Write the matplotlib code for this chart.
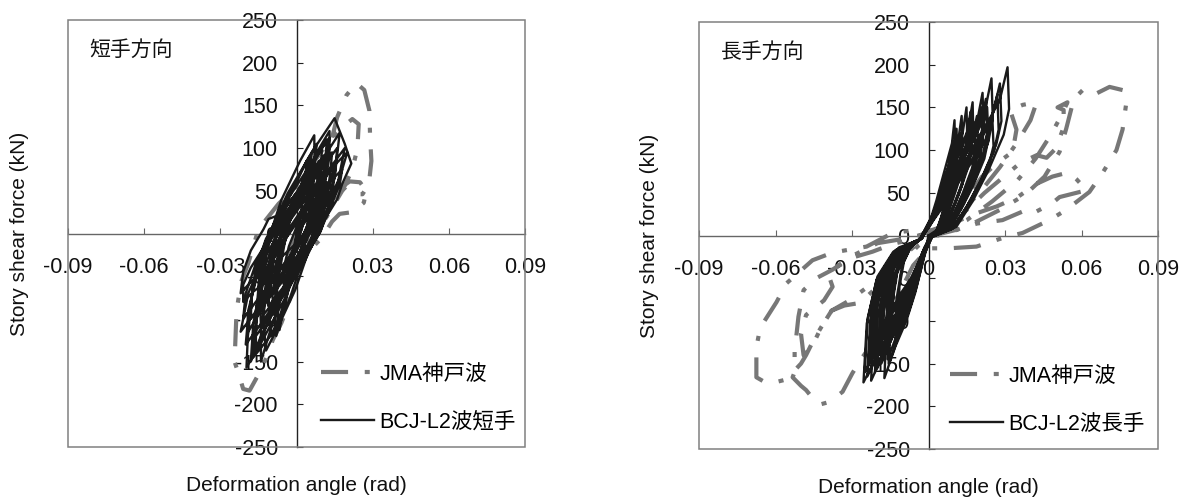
import numpy as np
import matplotlib
matplotlib.use("Agg")
import matplotlib.pyplot as plt
from matplotlib.patches import Rectangle

plt.rcParams['font.family'] = ['Liberation Sans', 'Noto Sans CJK JP']

# axis ticks
x_ticks = [-0.09, -0.06, -0.03, 0, 0.03, 0.06, 0.09]
y_ticks = [-250, -200, -150, -100, -50, 0, 50, 100, 150, 200, 250]

labels_short = ['JMA神戸波', 'BCJ-L2波短手']
labels_long = ['JMA神戸波', 'BCJ-L2波長手']

# hysteresis traces: (deformation angle [1e-3 rad], story shear [kN])
short_jma = [
    (0, 0), (5, -10), (12, 20), (18, 50), (22, 75), (24, 100), (24.5, 128), (22, 134),
    (17, 122), (12, 105), (6, 80), (0, 55), (-7, 35), (-11, 20), (-15, 5), (-17, -15),
    (-19, -35), (-21.6, -55), (-22.5, -70), (-23.6, -90), (-24, -120), (-24.4, -150),
    (-22.4, -168), (-21, -182), (-18.5, -184), (-14.6, -163), (-11, -140), (-9.4, -125),
    (-6, -105), (-4, -90), (-2.5, -75), (-1.6, -55), (1, -35), (5, -20), (10, -5), (14, 14),
    (17, 23), (22, 25), (26.5, 36), (27.5, 50), (25, 60), (21, 61), (18, 55), (21, 46),
    (26, 46), (28.5, 58), (29.5, 85), (29, 112), (28.7, 144), (26.7, 168), (23.6, 176),
    (19.7, 162), (16, 136), (13, 100), (9, 65), (4, 30), (0, 0), (-3, -25), (-6, -60),
    (-8, -100), (-5, -75), (-2, -40), (0, 0),
]

short_bcj = [
    (0, 0), (2, 8), (5, 20), (6, 33), (5, 45),
    (1.7, 33), (-2.6, 15), (-6, -5), (-7.4, -25), (-7.4, -43), (-7, -55),
    (-3, -40), (2.4, -17.5), (6.5, 7.5), (8.4, 32.5), (8.4, 55), (8, 70),
    (3.1, 51), (-3.4, 23.5), (-8.5, -7.5), (-11, -38.5), (-11.3, -66), (-11, -85),
    (-5.5, -64), (2.1, -32), (8, 3.5), (10.9, 39), (11.3, 71), (11, 92),
    (4.7, 68), (-3.8, 32), (-10.5, -8), (-13.8, -48), (-14.3, -84), (-14, -108),
    (-6.8, -79), (2.8, -35), (10.5, 13.5), (16, 40), (18, 58), (21.6, 82), (19, 105), (15, 135),
    (7.1, 100), (-3.5, 47), (-12.4, -11), (-17.4, -69), (-19.2, -122), (-19.7, -157),
    (-13.2, -124), (-4.4, -75), (2.6, -21), (6.3, 33), (7.1, 82), (7, 115),
    (1.4, 85), (-6, 39), (-11.5, -11), (-13.6, -61), (-13, -107), (-12, -137),
    (-7.2, -109), (-0.5, -66), (5, -18.5), (8.3, 29), (9.6, 72), (10, 100),
    (5.1, 74), (-1.5, 36), (-6.4, -6.5), (-8.2, -49), (-7.6, -87), (-6.7, -113),
    (-5, -85), (-2, -50), (3, -10), (8, 30), (11, 70), (13, 112),
    (6.2, 84), (-3, 42), (-10.5, -4), (-14.6, -50), (-15.8, -92), (-16, -120),
    (-10, -95), (-1.9, -58), (5, -16), (9.3, 26), (11.2, 63), (12, 88),
    (5.1, 65), (-4.3, 32), (-12, -6), (-16.3, -44), (-17.7, -77), (-18, -100),
    (-11.9, -78), (-3.4, -46), (3.5, -10), (7.4, 26), (8.7, 58), (9, 80),
    (3.2, 60), (-4.7, 29), (-11, -5), (-14.3, -39), (-15, -70), (-15, -90),
    (-8.6, -68), (0.2, -34.5), (7.5, 2.5), (11.8, 39.5), (13.4, 73), (14, 95),
    (6.6, 68), (-3.5, 27.5), (-12, -17.5), (-17.1, -62.5), (-19.2, -103), (-20, -130),
    (-14.3, -107), (-6.5, -73), (0, -35), (3.9, 3), (5.5, 37), (6, 60),
    (1.9, 44), (-3.7, 21), (-8, -5), (-10.1, -31), (-10.3, -54), (-10, -70),
    (-4.9, -53), (2, -28), (7.5, 0), (10.4, 28), (11.1, 53), (11, 70),
    (5.5, 50), (-1.9, 20.5), (-8, -12.5), (-11.5, -45.5), (-12.7, -75), (-13, -95),
    (-6.6, -72), (1.5, -36.5), (9.5, 2.5), (13.8, 41.5), (15.4, 77), (16, 100),
    (8.7, 71), (-1.2, 26.5), (-9.5, -22.5), (-14.4, -71.5), (-16.3, -116), (-17, -145),
    (-10, -119), (-3, -79), (2, -35), (9, 0), (14, 35), (17, 57), (18, 75),
    (13, 60), (5, 40), (-4, 25), (-11, 17), (-13, 5), (-18, -20), (-21, -45), (-22, -70),
    (-19, -60), (-14, -45), (-5, -25), (3, -3), (8, 20), (11, 40), (12, 60),
    (9, 45), (3, 25), (-4, -5), (-8, -40), (-9.5, -70), (-9, -95),
    (-6, -75), (-3, -45), (0, -15), (3, 15), (4.5, 35), (4, 50),
    (1, 38), (-5, 15), (-12, -12), (-18, -40), (-21, -60), (-21, -80),
    (-17, -68), (-9, -50), (-2, -25), (4, 5), (8, 30), (9, 55),
    (6, 40), (1, 15), (-3, -15), (-5, -40), (-5, -60),
    (-3, -45), (0, -15), (3, 20), (5, 55), (6, 95),
    (4, 75), (0, 40), (-4, 0), (-7, -50), (-8.5, -90), (-8, -120),
    (-5, -90), (-2, -50), (0, 0),
    (5, 25), (8, 45), (10, 65), (9, 85),
    (5, 70), (-1, 40), (-8, 0), (-13, -45), (-16, -90), (-16, -135),
    (-12, -110), (-6, -70), (0, -30), (6, 10), (11, 55), (13, 90), (13, 120),
    (9, 100), (3, 65), (-4, 20), (-9, -30), (-11, -80), (-10, -120),
    (-7, -100), (-3, -65), (3, -25), (10, 20), (15, 65), (17, 118),
    (12, 95), (5, 60), (-4, 15), (-13, -30), (-19, -70), (-22, -115),
    (-17, -95), (-9, -65), (-1, -25), (6, 20), (9, 50), (10, 80),
    (6, 60), (0, 30), (-8, -15), (-14, -60), (-17, -105), (-18, -150),
    (-14, -120), (-7, -80), (1, -35), (10, 15), (16, 55), (19, 100),
    (14, 80), (6, 45), (-2, 10), (-9, -30), (-12, -55), (-12, -80),
    (-8, -60), (-3, -30), (2, 5), (5, 45), (7, 80), (8, 105),
    (4, 85), (-2, 50), (-9, 10), (-16, -35), (-20, -70), (-21, -100),
    (-16, -80), (-8, -50), (0, -15), (8, 25), (13, 55), (15, 80),
    (10, 60), (3, 30), (-5, -10), (-11, -60), (-14, -110), (-14, -150),
    (-11, -120), (-7, -85), (-3, -40), (1, 10), (3, 50), (4, 85),
    (0, 60), (-5, 30), (-11, -10), (-16, -55), (-19, -90), (-19, -115),
    (-14, -90), (-7, -55), (1, -15), (7, 30), (11, 75), (12, 110),
    (8, 90), (2, 55), (-4, 10), (-7, -35), (-8.5, -65), (-8, -90),
    (-5, -65), (-1, -35), (5, 0), (12, 35), (17, 65), (20, 95),
    (15, 80), (8, 55), (0, 0),
]

long_jma = [
    (0, 0), (6, 14), (13, 35), (21, 69), (27, 85), (33, 98), (34.5, 124), (32, 147),
    (37, 153), (42.4, 156), (40, 135), (35, 110), (28, 80), (20, 50), (12, 25), (3, 5),
    (-8, -3), (-20, -9), (-30, -24), (-37.6, -40), (-44, -50), (-49, -64), (-51, -95),
    (-52.5, -136), (-52.5, -158), (-50, -150), (-48, -140), (-45, -122), (-42, -107),
    (-38, -88), (-33, -82), (-27, -79), (-20, -60), (-12, -35), (-4, -12), (2, 0),
    (10, 6), (19, 14), (29, 18), (38.4, 30), (41, 26), (48.6, 38), (51.4, 45), (62, 53),
    (58, 66), (55, 74), (48.6, 69), (42, 60), (35, 45), (26.7, 34), (18.8, 26), (10, 15), (0, 5),
    (-6, -4), (-14, -10), (-22, -19), (-30, -26), (-37.6, -40), (-39, -48), (-37.6, -60),
    (-41, -76), (-48, -93), (-50, -115), (-49, -140), (-46, -132), (-42, -107), (-38, -88),
    (-31, -76), (-22, -56), (-14, -35), (-6, -14), (0, 0),
    (6, 10), (15, 30), (22, 50), (30, 70), (36, 85), (42.4, 94), (46.3, 91), (50, 102),
    (53, 127), (53, 147), (50.6, 150), (54.5, 156), (52, 140), (48, 118), (42, 90),
    (35, 65), (25, 40), (15, 18), (5, 5),
    (-6, 6), (-14, 3), (-24.3, -13), (-37.6, -20), (-45.5, -29), (-55.7, -56), (-59.6, -78),
    (-66, -108), (-67.5, -131), (-67.5, -166), (-64, -172), (-61.6, -173), (-55, -168),
    (-52.5, -160), (-53.3, -166), (-50, -176), (-48, -181), (-45, -192), (-42.7, -198),
    (-39, -195), (-33.7, -183), (-29.8, -161), (-26, -143), (-22, -126), (-17, -100),
    (-11, -65), (-6, -35), (0, -15),
    (8, -15), (18.8, -13), (29, -3), (36.9, 3), (47.4, 18), (54, 30), (63.1, 51), (68.2, 73),
    (73.7, 100), (76.1, 124), (77.6, 156), (76.5, 170), (71, 174), (64.3, 164), (60.4, 170),
    (57, 160), (54, 125), (51.4, 98), (45.5, 69), (38, 48), (28, 30), (16, 12), (5, 0), (0, 0),
]

long_bcj = [
    (0, 0),
    (3.6, 7), (5.6, 27), (7.7, 51), (9.7, 81), (10.4, 101), (10.2, 135), (9.2, 108), (6.1, 74), (3.1, 41), (0.5, 16),
    (-3, -4),
    (-14.0, -21), (-20.4, -52), (-24.2, -103), (-25.5, -172), (-19.1, -134), (-12.8, -103), (-7.7, -69), (-2.6, -26),
    (1, -2),
    (5.2, 8), (8.2, 30), (11.2, 57), (14.2, 90), (15.2, 113), (14.9, 150), (13.4, 120), (8.9, 83), (4.5, 45), (0.7, 18),
    (-3.5, -5),
    (-9.5, -20), (-13.8, -50), (-16.4, -100), (-17.3, -167), (-13.0, -130), (-8.7, -100), (-5.2, -67), (-1.7, -25),
    (0.5, -3),
    (6.1, 8), (9.5, 31), (13.0, 59), (16.4, 94), (17.6, 117), (17.3, 156), (15.6, 125), (10.4, 86), (5.2, 47), (0.9, 19),
    (-2.5, -3),
    (-11.6, -19), (-16.8, -48), (-20.0, -96), (-21, -160), (-15.8, -125), (-10.5, -96), (-6.3, -64), (-2.1, -24),
    (1.5, -1),
    (7.4, 8), (11.7, 33), (15.9, 63), (20.1, 100), (21.6, 125), (21.2, 167), (19.1, 134), (12.7, 92), (6.4, 50), (1.1, 20),
    (-3, -4),
    (-12.7, -18), (-18.4, -45), (-21.9, -90), (-23, -150), (-17.3, -117), (-11.5, -90), (-6.9, -60), (-2.3, -23),
    (1, -2),
    (8.6, 9), (13.6, 37), (18.5, 70), (23.5, 110), (25.2, 138), (24.7, 184), (22.2, 147), (14.8, 101), (7.4, 55), (1.2, 22),
    (-3.5, -5),
    (-10.5, -17), (-15.2, -42), (-18.1, -84), (-19, -140), (-14.3, -109), (-9.5, -84), (-5.7, -56), (-1.9, -21),
    (0.5, -2),
    (10.9, 10), (17.1, 39), (23.3, 75), (29.5, 118), (31.6, 148), (31, 197), (27.9, 158), (18.6, 108), (9.3, 59), (1.6, 24),
    (-3, -4),
    (-8.3, -15), (-12, -38), (-14.3, -75), (-15, -125), (-11.3, -98), (-7.5, -75), (-4.5, -50), (-1.5, -19),
    (1, -2),
    (4.4, 6), (6.9, 24), (9.4, 46), (11.9, 72), (12.8, 90), (12.5, 120), (11.3, 96), (7.5, 66), (3.8, 36), (0.6, 14),
    (-2.5, -3),
    (-12.1, -16), (-17.6, -39), (-20.9, -78), (-22, -130), (-16.5, -101), (-11, -78), (-6.6, -52), (-2.2, -20),
    (1.5, -1),
    (6.7, 7), (10.5, 28), (14.3, 53), (18.1, 84), (19.4, 105), (19, 140), (17.1, 112), (11.4, 77), (5.7, 42), (1, 17),
    (-3, -4),
    (-9.9, -13), (-14.4, -32), (-17.1, -63), (-18, -105), (-13.5, -82), (-9, -63), (-5.4, -42), (-1.8, -16),
    (1, -2),
    (8.1, 8), (12.7, 30), (17.3, 57), (21.9, 90), (23.5, 113), (23, 150), (20.7, 120), (13.8, 83), (6.9, 45), (1.2, 18),
    (-3.5, -5),
    (-13.2, -20), (-19.2, -50), (-22.8, -99), (-24, -165), (-18, -129), (-12, -99), (-7.2, -66), (-2.4, -25),
    (0.5, -2),
    (5.6, 6), (8.8, 26), (12, 49), (15.2, 77), (16.3, 96), (16, 128), (14.4, 102), (9.6, 70), (4.8, 38), (0.8, 15),
    (-3, -4),
    (-11, -19), (-16, -47), (-19, -93), (-20, -155), (-15, -121), (-10, -93), (-6, -62), (-2, -23),
    (1, -2),
    (9.5, 8), (14.9, 33), (20.3, 63), (25.7, 99), (27.5, 124), (27, 165), (24.3, 132), (16.2, 91), (8.1, 50), (1.4, 20),
    (-2.5, -3),
    (-8.8, -17), (-12.8, -44), (-15.2, -87), (-16, -145), (-12, -113), (-8, -87), (-4.8, -58), (-1.6, -22),
    (1.5, -1),
    (3, 5), (4.7, 19), (6.4, 36), (8.1, 57), (8.7, 71), (8.5, 95), (7.7, 76), (5.1, 52), (2.6, 29), (0.4, 11),
    (-3, -4),
    (-6.6, -12), (-9.6, -30), (-11.4, -60), (-12, -100), (-9, -78), (-6, -60), (-3.6, -40), (-1.2, -15),
    (1, -2),
    (7, 6), (11, 24), (15, 45), (19, 71), (20.4, 89), (20, 118), (18, 94), (12, 65), (6, 35), (1, 14),
    (-3.5, -5),
    (-11.6, -14), (-16.8, -36), (-20, -72), (-21, -120), (-15.8, -94), (-10.5, -72), (-6.3, -48), (-2.1, -18),
    (0.5, -2),
    (4.9, 5), (7.7, 20), (10.5, 38), (13.3, 60), (14.3, 75), (14, 100), (12.6, 80), (8.4, 55), (4.2, 30), (0.7, 12),
    (-3, -4),
    (-7.7, -10), (-11.2, -26), (-13.3, -51), (-14, -85), (-10.5, -66), (-7, -51), (-4.2, -34), (-1.4, -13),
    (1, -2),
    (8.8, 7), (13.8, 28), (18.8, 53), (23.8, 84), (25.5, 105), (25, 140), (22.5, 112), (15, 77), (7.5, 42), (1.3, 17),
    (-3, -4),
    (-10.5, -14), (-15.2, -35), (-18.1, -69), (-19, -115), (-14.3, -90), (-9.5, -69), (-5.7, -46), (-1.9, -17),
    (0.5, -1),
    (3.9, 6), (6.1, 25), (8.3, 48), (10.5, 75), (11.2, 94), (11, 125), (9.9, 100), (6.6, 69), (3.3, 38), (0.6, 15),
    (-3, -4),
    (-12.9, -17), (-18.8, -44), (-22.3, -87), (-23.5, -145), (-17.6, -113), (-11.8, -87), (-7, -58), (-2.4, -22),
    (1, -2),
    (7.9, 8), (12.4, 32), (16.9, 61), (21.4, 96), (23, 120), (22.5, 160), (20.3, 128), (13.5, 88), (6.8, 48), (1.1, 19),
    (-3.5, -5),
    (-9.4, -16), (-13.6, -39), (-16.2, -78), (-17, -130), (-12.8, -101), (-8.5, -78), (-5.1, -52), (-1.7, -20),
    (1, -2),
    (6.3, 7), (9.9, 26), (13.5, 50), (17.1, 79), (18.4, 99), (18, 132), (16.2, 106), (10.8, 73), (5.4, 40), (0.9, 16),
    (-3, -4),
    (-13.8, -19), (-20, -48), (-23.8, -96), (-25, -160), (-18.8, -125), (-12.5, -96), (-7.5, -64), (-2.5, -24),
    (1.5, -1),
    (4.6, 7), (7.2, 28), (9.8, 53), (12.4, 84), (13.3, 105), (13, 140), (11.7, 112), (7.8, 77), (3.9, 42), (0.7, 17),
    (-2.5, -3),
    (-7.2, -14), (-10.4, -36), (-12.4, -72), (-13, -120), (-9.8, -94), (-6.5, -72), (-3.9, -48), (-1.3, -18),
    (1, -2),
    (9.8, 9), (15.4, 36), (21, 68), (26.6, 107), (28.6, 134), (28, 178), (25.2, 142), (16.8, 98), (8.4, 53), (1.4, 21),
    (-3, -4),
    (-11.8, -17), (-17.2, -42), (-20.4, -84), (-21.5, -140), (-16.1, -109), (-10.8, -84), (-6.5, -56), (-2.2, -21),
    (0.5, -2),
    (5.8, 7), (9.1, 29), (12.4, 55), (15.7, 87), (16.8, 109), (16.5, 145), (14.9, 116), (9.9, 80), (5, 44), (0.8, 17),
    (-3.5, -5),
    (-10.2, -18), (-14.8, -45), (-17.6, -90), (-18.5, -150), (-13.9, -117), (-9.3, -90), (-5.6, -60), (-1.9, -23),
    (1, -2),
    (3.3, 6), (5.2, 22), (7.1, 42), (9, 66), (9.7, 83), (9.5, 110), (8.6, 88), (5.7, 61), (2.9, 33), (0.5, 13),
    (-3, -4),
    (-12.4, -20), (-18, -51), (-21.4, -102), (-22.5, -170), (-16.9, -133), (-11.3, -102), (-6.8, -68), (-2.3, -26),
    (1, -2),
    (7.4, 8), (11.6, 30), (15.8, 57), (20, 90), (21.4, 113), (21, 150), (18.9, 120), (12.6, 83), (6.3, 45), (1.1, 18),
    (-3, -4),
    (-8.5, -18), (-12.4, -45), (-14.7, -90), (-15.5, -150), (-11.6, -117), (-7.8, -90), (-4.7, -60), (-1.6, -23),
    (0, 0),
]

GRAY = '#777777'
BLACK = '#1a1a1a'
FS = 15.5


def split(pts):
    a = np.array(pts, dtype=float)
    return a[:, 0] / 1000.0, a[:, 1]


def draw_panel(ax, jma, bcj, title, labels, legend_x):
    jx, jy = split(jma)
    bx, by = split(bcj)
    l_jma, = ax.plot(jx, jy, color=GRAY, lw=3, dashes=(6.5, 4, 1.2, 4),
                     solid_joinstyle='round', zorder=3)
    l_bcj, = ax.plot(bx, by, color=BLACK, lw=1.7, solid_joinstyle='round', zorder=4)

    ax.set_xlim(-0.09, 0.09)
    ax.set_ylim(-250, 250)

    # axes cross at the origin, plot area framed in grey
    for s in ['top', 'right']:
        ax.spines[s].set_visible(False)
    ax.spines['left'].set_position(('data', 0))
    ax.spines['bottom'].set_position(('data', 0))
    ax.spines['left'].set_color('#222222')
    ax.spines['bottom'].set_color('#666666')
    ax.spines['left'].set_linewidth(1.0)
    ax.spines['bottom'].set_linewidth(1.0)
    ax.add_patch(Rectangle((0, 0), 1, 1, transform=ax.transAxes, fill=False,
                           ec='#808080', lw=1.1, clip_on=False, zorder=2.6))

    ax.set_xticks(x_ticks)
    ax.set_xticklabels([f'{v:g}' for v in x_ticks])
    ax.set_yticks(y_ticks)
    ax.set_yticklabels([str(v) for v in y_ticks])
    ax.tick_params(axis='x', direction='in', length=4.5, pad=17, labelsize=FS,
                   color='#666666', labelcolor='#111111')
    ax.tick_params(axis='y', direction='in', length=4.5, pad=13.5, labelsize=FS,
                   color='#222222', labelcolor='#111111')

    ax.text(-0.107, 0.5, 'Story shear force (kN)', transform=ax.transAxes,
            rotation=90, ha='center', va='center', fontsize=15, color='#111111')
    ax.text(0.5, -0.089, 'Deformation angle (rad)', transform=ax.transAxes,
            ha='center', va='center', fontsize=15, color='#111111')
    ax.text(0.047, 0.93, title, transform=ax.transAxes, ha='left', va='center',
            fontsize=15, color='#111111')

    ax.legend([l_jma, l_bcj], labels, loc='upper left',
              bbox_to_anchor=(legend_x, 0.195), frameon=False, fontsize=FS,
              handlelength=2.45, handletextpad=0.25, labelspacing=1.25,
              borderpad=0, borderaxespad=0)


fig = plt.figure(figsize=(11.88, 5), dpi=100)
ax1 = fig.add_axes([68 / 1188, 53 / 500, 457 / 1188, 427 / 500])
ax2 = fig.add_axes([699 / 1188, 51 / 500, 459 / 1188, 427 / 500])

draw_panel(ax1, short_jma, short_bcj, '短手方向', labels_short, 0.554)
draw_panel(ax2, long_jma, long_bcj, '長手方向', labels_long, 0.547)

fig.savefig('out.png', dpi=100)
